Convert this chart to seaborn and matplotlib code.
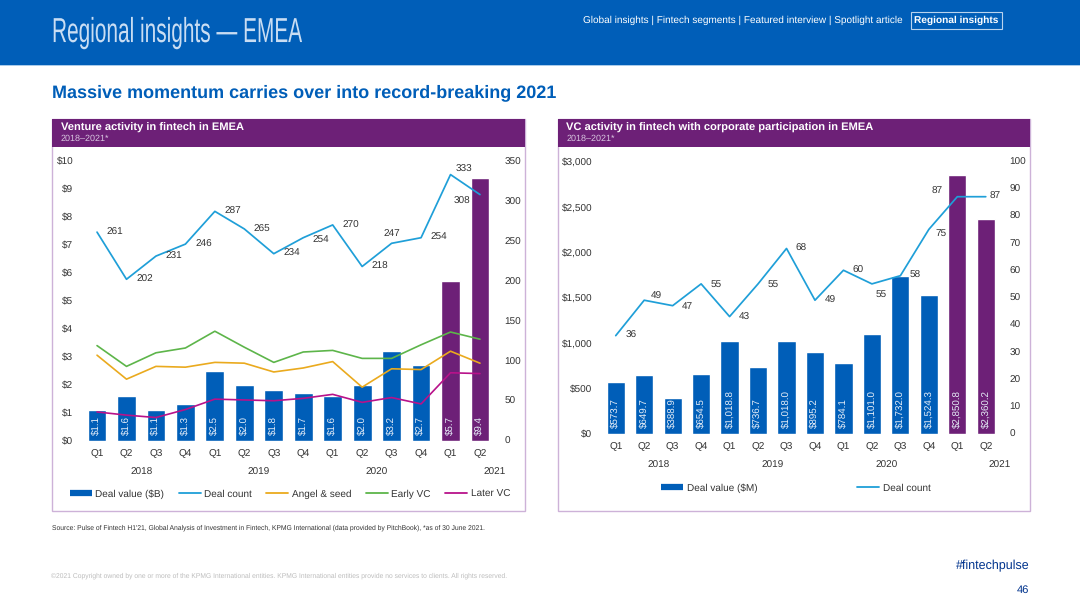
import numpy as np
import pandas as pd
import seaborn as sns
import matplotlib.pyplot as plt
from matplotlib.lines import Line2D
from matplotlib.patches import Rectangle
from matplotlib.patheffects import AbstractPathEffect
from matplotlib.transforms import Affine2D

quarters = ["Q1", "Q2", "Q3", "Q4", "Q1", "Q2", "Q3", "Q4", "Q1", "Q2", "Q3", "Q4", "Q1", "Q2"]
years = ["2018", "2019", "2020", "2021"]

# left chart
deal_value_b = [1.1, 1.6, 1.1, 1.3, 2.5, 2.0, 1.8, 1.7, 1.6, 2.0, 3.2, 2.7, 5.7, 9.4]
deal_count_l = [261, 202, 231, 246, 287, 265, 234, 254, 270, 218, 247, 254, 333, 308]
angel_seed = [107, 77, 93, 92, 98, 97, 86, 91, 99, 67, 90, 89, 112, 97]
early_vc = [119, 93, 110, 116, 137, 117, 98, 111, 113, 103, 103, 120, 136, 127]
later_vc = [36, 32, 29, 39, 52, 51, 50, 53, 58, 48, 54, 46, 85, 84]

# right chart
deal_value_m = [573.7, 649.7, 388.9, 654.5, 1018.8, 736.7, 1018.0, 895.2, 784.1, 1101.0, 1732.0, 1524.3, 2850.8, 2360.2]
deal_count_r = [36, 49, 47, 55, 43, 55, 68, 49, 60, 55, 58, 75, 87, 87]

BLUE = "#005EB8"
PURPLE = "#6D2077"
LINE_BLUE = "#1F9FD8"
GOLD = "#EAAA1E"
GREEN = "#5DB54A"
MAGENTA = "#B8128A"
BORDER = "#CDB2D8"
NAVY = "#00338D"
TEXT = "#333333"

sns.set_theme(style="white")
plt.rcParams["font.family"] = ["Liberation Sans", "DejaVu Sans"]
plt.rcParams["text.hinting"] = "no_hinting"
plt.rcParams["text.hinting_factor"] = 8

W, H = 1080, 607
fig = plt.figure(figsize=(W / 100, H / 100), dpi=100, facecolor="white")

# page furniture, drawn in pixel coordinates
bg = fig.add_axes([0, 0, 1, 1])
bg.set_xlim(0, W)
bg.set_ylim(H, 0)
bg.axis("off")


class Squeeze(AbstractPathEffect):
    # the slide heading is a condensed face we don't have, so narrow the glyphs
    def __init__(self, x0, factor):
        super().__init__()
        self.x0, self.factor = x0, factor

    def draw_path(self, renderer, gc, tpath, affine, rgbFace=None):
        squeeze = Affine2D().translate(-self.x0, 0).scale(self.factor, 1).translate(self.x0, 0)
        renderer.draw_path(gc, tpath, affine + squeeze, rgbFace)


bg.add_patch(Rectangle((0, 0), W, 65, color=BLUE, lw=0))
bg.add_patch(Rectangle((0, 65), W, 1, color="#A9CBEA", lw=0))
bg.text(52, 33, "Regional insights \u2014 EMEA", color="#C9DDF3", fontsize=25,
        va="center", ha="left", path_effects=[Squeeze(52, 0.6)])
bg.text(903, 20, "Global insights | Fintech segments | Featured interview | Spotlight article",
        color="white", fontsize=7.2, va="center", ha="right")
bg.add_patch(Rectangle((911, 11.5), 91, 17, fill=False, ec="#B9D3EE", lw=0.8))
bg.text(956.5, 20, "Regional insights", color="white", fontsize=7.3, fontweight="bold",
        va="center", ha="center")
bg.text(52, 92.5, "Massive momentum carries over into record-breaking 2021", color=BLUE,
        fontsize=13, fontweight="bold", va="center")
bg.text(52, 528, "Source: Pulse of Fintech H1'21, Global Analysis of Investment in Fintech, KPMG International "
        "(data provided by PitchBook), *as of 30 June 2021.", color=TEXT, fontsize=4.86, va="center")
bg.text(51, 575.5, "\u00a92021 Copyright owned by one or more of the KPMG International entities. KPMG International "
        "entities provide no services to clients. All rights reserved.", color="#BDBDBD", fontsize=4.86, va="center")
bg.text(1029.5, 566, "#fintechpulse", color=NAVY, fontsize=9, ha="right", va="center")
bg.text(1029.5, 590, "46", color=NAVY, fontsize=8, ha="right", va="center")


def panel(x0, x1, title, sub):
    bg.add_patch(Rectangle((x0, 119), x1 - x0, 392, fill=False, ec=BORDER, lw=1))
    bg.add_patch(Rectangle((x0, 119), x1 - x0, 28, color=PURPLE, lw=0))
    bg.text(x0 + 9, 127.5, title, color="white", fontsize=8.05, fontweight="bold", va="center")
    bg.text(x0 + 9, 139, sub, color="#D9C6E0", fontsize=6.5, va="center")


def chart(box, values, counts, val_ticks, val_fmt, count_ticks, value_labels, count_offsets, extra=()):
    left, right, top, bottom = box
    ax = fig.add_axes([left / W, 1 - bottom / H, (right - left) / W, (bottom - top) / H])
    ax.patch.set_visible(False)
    df = pd.DataFrame({
        "period": [str(i) for i in range(len(values))],
        "value": values,
        "group": ["recent" if i >= 12 else "past" for i in range(len(values))],
    })
    sns.barplot(data=df, x="period", y="value", hue="group", palette={"past": BLUE, "recent": PURPLE},
                dodge=False, width=0.64, legend=False, saturation=1, ax=ax)
    ax.set_ylim(val_ticks[0], val_ticks[-1])
    ax.set_yticks(val_ticks)
    ax.set_yticklabels([val_fmt(v) for v in val_ticks])
    ax.set_xticks(range(len(quarters)))
    ax.set_xticklabels(quarters)
    ax.set_xlabel("")
    ax.set_ylabel("")
    ax.tick_params(axis="x", length=0, pad=5.8, labelsize=7.2, labelcolor=TEXT)
    ax.tick_params(axis="y", length=0, pad=6.5, labelsize=7.2, labelcolor=TEXT)
    sns.despine(ax=ax, left=True, bottom=True)

    for i, lab in enumerate(value_labels):
        ax.annotate(lab, xy=(i, 0), xytext=(0, 3.8), textcoords="offset points", rotation=90,
                    ha="center", va="bottom", color="#E6EEF8", fontsize=7)

    ax2 = ax.twinx()
    ax2.patch.set_visible(False)
    xs = np.arange(len(counts))
    for series, colour in extra:
        sns.lineplot(x=xs, y=series, color=colour, lw=1.2, ax=ax2, legend=False)
    sns.lineplot(x=xs, y=counts, color=LINE_BLUE, lw=1.25, ax=ax2, legend=False)
    ax2.set_xlim(-0.5, len(counts) - 0.5)
    ax2.set_ylim(count_ticks[0], count_ticks[-1])
    ax2.set_yticks(count_ticks)
    ax2.set_ylabel("")
    ax2.tick_params(axis="y", length=0, pad=6.8, labelsize=7.2, labelcolor=TEXT)
    ax2.grid(False)
    ax.grid(False)
    for s in ax2.spines.values():
        s.set_visible(False)

    for i, (c, off) in enumerate(zip(counts, count_offsets)):
        ax2.annotate(str(c), xy=(i, c), xytext=(off[0] * 0.72, off[1] * 0.72), textcoords="offset points",
                     ha="center", va="center", color=TEXT, fontsize=7.2)

    # year labels sit under the quarters, 2021 is pushed out to the right edge
    for x, yr in zip([1.5, 5.5, 9.5, 13.5], years):
        ax.annotate(yr, xy=(x, 0), xycoords=("data", "axes fraction"), xytext=(0, -22.5),
                    textcoords="offset points", ha="center", va="center", color=TEXT, fontsize=7.2)
    return ax


panel(52, 524.5, "Venture activity in fintech in EMEA", "2018\u20132021*")
panel(557.5, 1029.5, "VC activity in fintech with corporate participation in EMEA", "2018\u20132021*")

left_offsets = [(18, 0), (18, 0), (18, 0), (18, 0), (18, 0), (18, 0), (18, 0), (18, -3),
                (18, 0), (18, 0), (0, 10), (18, 0), (13, 5), (-18, -7)]
right_offsets = [(15, 0), (12, 4), (15, -1), (15, 0), (15, -1), (15, 0), (15, 0), (15, 0),
                 (15, 0), (9, -10), (15, 0), (12, -4), (-20, 5), (9, 0)]

chart((82.3, 494.7, 161, 440.7), deal_value_b, deal_count_l, list(range(0, 11)), lambda v: f"${v}",
      list(range(0, 351, 50)), [f"${v:.1f}" for v in deal_value_b], left_offsets,
      extra=[(angel_seed, GOLD), (early_vc, GREEN), (later_vc, MAGENTA)])
chart((601.5, 1000, 161.3, 433.7), deal_value_m, deal_count_r, list(range(0, 3001, 500)), lambda v: f"${v:,}",
      list(range(0, 101, 10)), [f"${v:,.1f}" for v in deal_value_m], right_offsets)

leg_left = bg.legend(
    handles=[Line2D([], [], color=BLUE, lw=4.5, solid_capstyle="butt", label="Deal value ($B)"),
             Line2D([], [], color=LINE_BLUE, lw=1.3, label="Deal count"),
             Line2D([], [], color=GOLD, lw=1.3, label="Angel & seed"),
             Line2D([], [], color=GREEN, lw=1.3, label="Early VC"),
             Line2D([], [], color=MAGENTA, lw=1.3, label="Later VC")],
    loc="center", bbox_to_anchor=(290, 494), bbox_transform=bg.transData, ncol=5, frameon=False,
    fontsize=7.2, handlelength=2.2, handletextpad=0.35, columnspacing=1.45, labelcolor=TEXT)
bg.add_artist(leg_left)
bg.legend(
    handles=[Line2D([], [], color=BLUE, lw=4.5, solid_capstyle="butt", label="Deal value ($M)"),
             Line2D([], [], color=LINE_BLUE, lw=1.3, label="Deal count")],
    loc="center", bbox_to_anchor=(796, 488), bbox_transform=bg.transData, ncol=2, frameon=False,
    fontsize=7.2, handlelength=2.2, handletextpad=0.35, columnspacing=10, labelcolor=TEXT)

fig.savefig("out.png", dpi=100)
